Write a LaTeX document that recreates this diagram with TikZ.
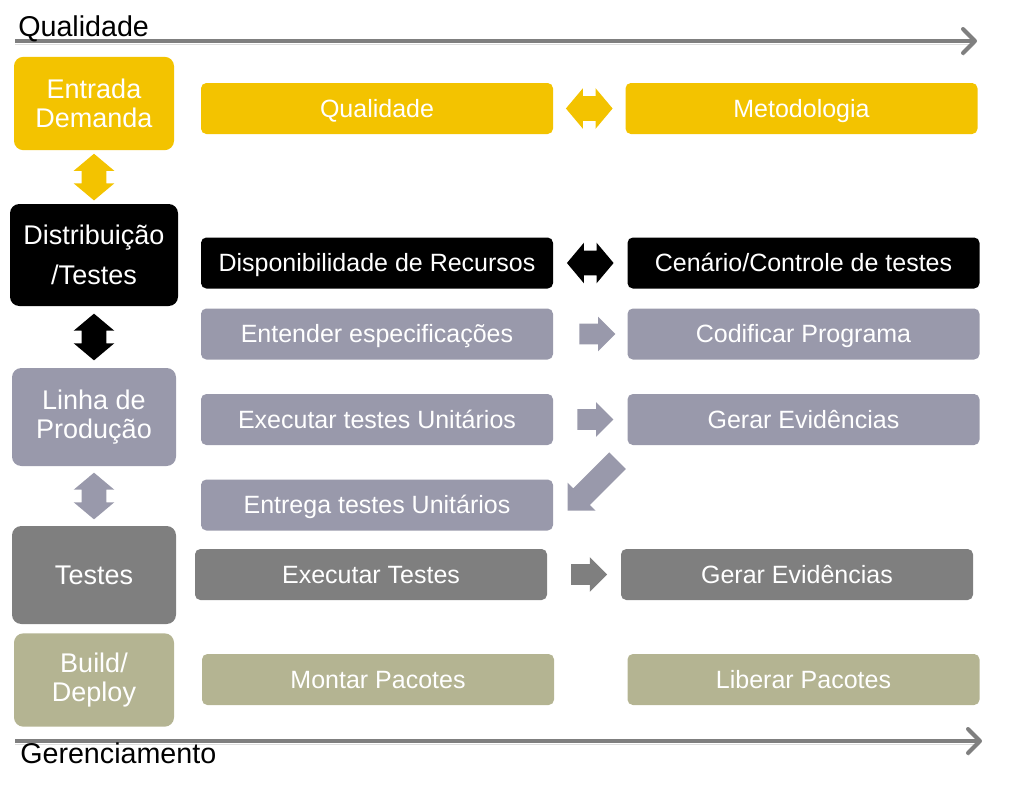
\documentclass[tikz,border=0pt]{standalone}
\usepackage{fontspec}
\setmainfont{Liberation Sans}
\usetikzlibrary{shapes.arrows,arrows.meta,calc}

\definecolor{amarelo}{HTML}{F3C300}
\definecolor{lilas}{HTML}{9999AB}
\definecolor{cinza}{HTML}{7F7F7F}
\definecolor{caqui}{HTML}{B4B492}
\def\tarefaw{264pt}

\begin{document}
\begin{tikzpicture}[x=0.75pt,y=-0.75pt]
    \tikzstyle{fase}=[rounded corners=7pt,text=white,align=center,inner sep=0pt,
        minimum width=120pt,minimum height=70pt,font=\fontsize{20.25}{21.5}\selectfont]
    \tikzstyle{tarefa}=[rounded corners=4pt,text=white,inner sep=0pt,text height=13.4pt,
        text depth=0pt,minimum width=\tarefaw,minimum height=38.25pt,
        font=\fontsize{18.75}{20}\selectfont]
    \tikzstyle{eixo}=[draw=cinza,line width=3pt,-{Straight Barb[length=9pt,width=18pt,round]},
        preaction={draw=black!13,transform canvas={yshift=-2.25pt}}]
    \tikzstyle{eixo label}=[anchor=base west,inner sep=0pt,font=\fontsize{21.5}{24}\selectfont]
    \tikzstyle{seta dupla}=[double arrow,inner sep=9pt,double arrow head extend=6pt,
        double arrow tip angle=100,minimum height=35pt]
    \tikzstyle{seta}=[single arrow,inner sep=7.5pt,single arrow head extend=5.25pt,
        minimum height=27pt]

    \useasboundingbox (0,0) rectangle (1009,789);

    % Draw the axes
    \coordinate (q-ini) at (15,41);
    \coordinate (q-fim) at (977,41);
    \coordinate (g-ini) at (15,741);
    \coordinate (g-fim) at (982,741);
    \draw[eixo] (q-ini) -- (q-fim);
    \draw[eixo] (g-ini) -- (g-fim);
    \node[eixo label] (qlab) at (18,36) {Qualidade};
    \node[eixo label] (glab) at (20,763) {Gerenciamento};

    % Draw the phases
    \node[fase,fill=amarelo] (ent) at (94,103.5) {Entrada\\Demanda};
    \node[fase,fill=black,minimum width=126pt,minimum height=76.5pt] (dist) at (94,255)
        {Distribuição\\[8pt]/Testes};
    \node[fase,fill=lilas,minimum width=123pt,minimum height=73.5pt] (linha) at (94,417)
        {Linha de\\Produção};
    \node[fase,fill=cinza,minimum width=123pt,minimum height=73.5pt] (tst) at (94,575) {Testes};
    \node[fase,fill=caqui] (build) at (94,680) {Build/\\Deploy};

    % Draw the tasks
    \node[tarefa,fill=amarelo] (mq) at (377,108.5) {Qualidade};
    \node[tarefa,fill=black] (mdisp) at (377,263) {Disponibilidade de Recursos};
    \node[tarefa,fill=lilas] (ment) at (377,334) {Entender especificações};
    \node[tarefa,fill=lilas] (mexe) at (377,419.5) {Executar testes Unitários};
    \node[tarefa,fill=lilas] (mentr) at (377,505) {Entrega testes Unitários};
    \node[tarefa,fill=cinza] (mexet) at (371,574.5) {Executar Testes};
    \node[tarefa,fill=caqui] (mmon) at (378,679.5) {Montar Pacotes};

    \node[tarefa,fill=amarelo] (rmet) at (801.5,108.5) {Metodologia};
    \node[tarefa,fill=black] (rcen) at (803.5,263) {Cenário/Controle de testes};
    \node[tarefa,fill=lilas] (rcod) at (803.5,334) {Codificar Programa};
    \node[tarefa,fill=lilas] (rger) at (803.5,419.5) {Gerar Evidências};
    \node[tarefa,fill=cinza] (rger2) at (797,574.5) {Gerar Evidências};
    \node[tarefa,fill=caqui] (rlib) at (803.5,679.5) {Liberar Pacotes};

    % Connect the phases
    \node[seta dupla,fill=amarelo,rotate=90] (s-ent) at ($(ent.south)!0.5!(dist.north)$) {};
    \node[seta dupla,fill=black,rotate=90] (s-dist) at ($(dist.south)!0.5!(linha.north)$) {};
    \node[seta dupla,fill=lilas,rotate=90] (s-linha) at ($(linha.south)!0.5!(tst.north)$) {};

    % Connect the tasks
    \node[seta dupla,fill=amarelo] (s-qual) at ($(mq.east)!0.5!(rmet.west)$) {};
    \node[seta dupla,fill=black] (s-disp) at ($(mdisp.east)!0.5!(rcen.west)$) {};
    \node[seta,fill=lilas] (s-ent2) at ($(ment.east)!0.5!(rcod.west)+(2,0)$) {};
    \node[seta,fill=lilas] (s-exe) at ($(mexe.east)!0.5!(rger.west)$) {};
    \node[seta,fill=lilas,rotate=225,minimum height=53pt,inner sep=8.6pt,
        single arrow head extend=6pt] (s-diag) at ($(mentr.east)+(43.5,-23.5)$) {};
    \node[seta,fill=cinza] (s-tst) at ($(mexet.east)!0.5!(rger2.west)$) {};
\end{tikzpicture}
\end{document}
